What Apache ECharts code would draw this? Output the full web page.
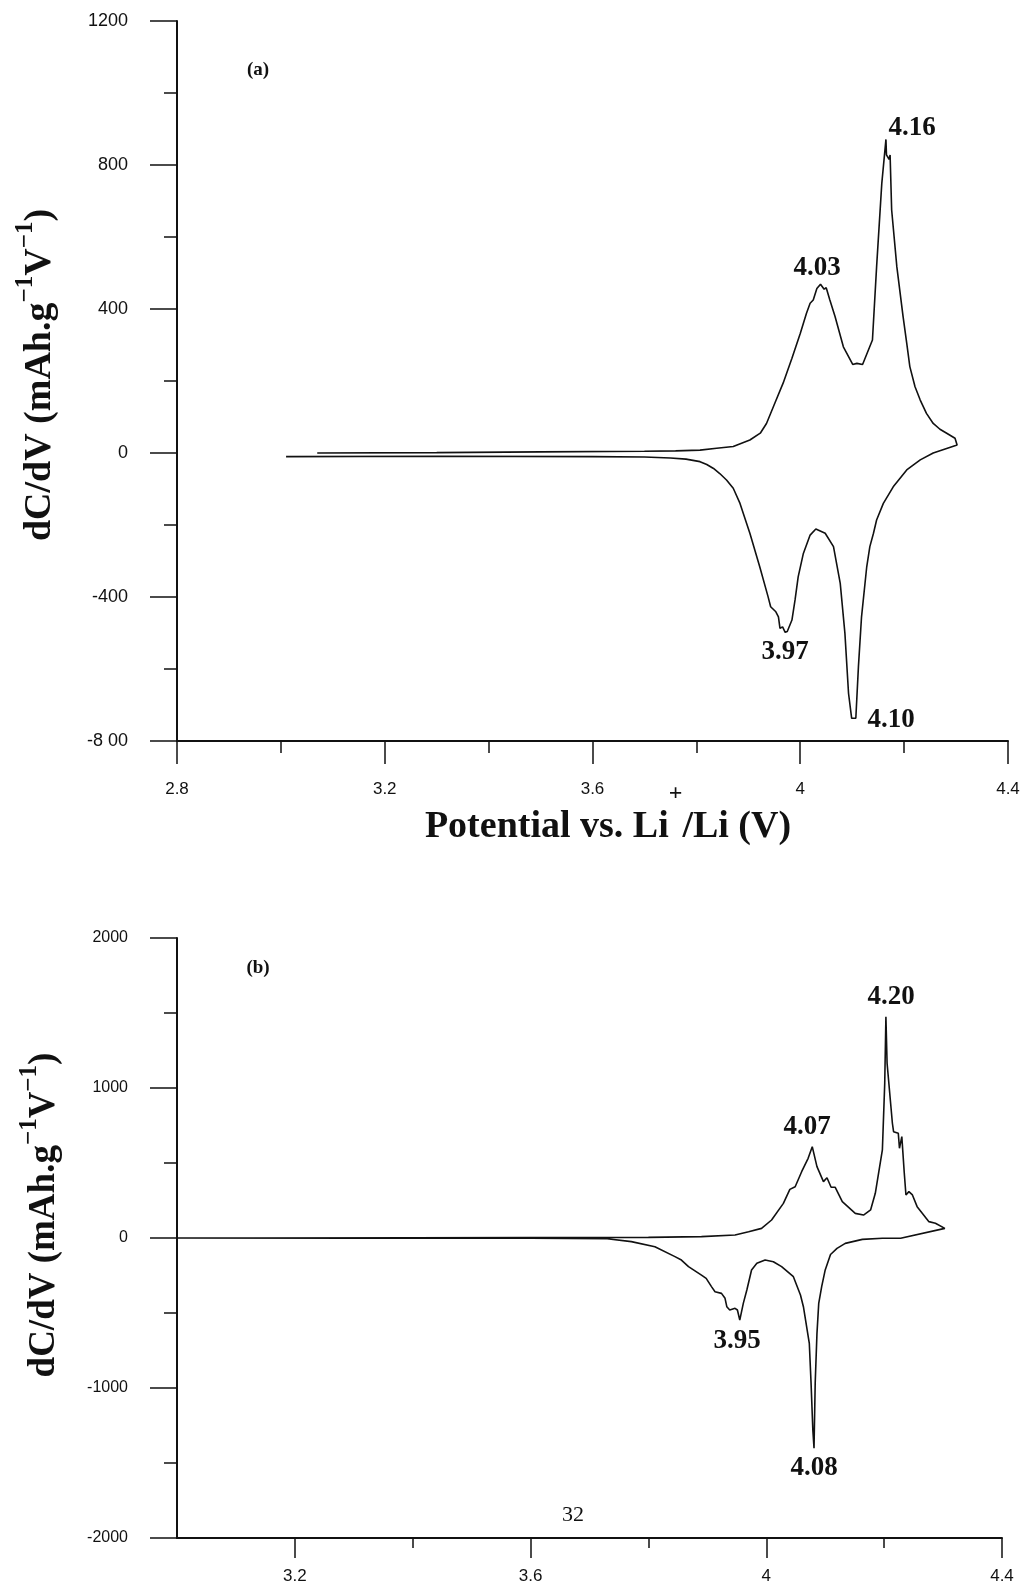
<!DOCTYPE html>
<html>
<head>
<meta charset="utf-8">
<script src="https://cdn.jsdelivr.net/npm/echarts@6/dist/echarts.min.js"></script>
<style>
html,body{margin:0;padding:0;background:#fff;}
#chart{width:1026px;height:1588px;}
</style>
</head>
<body>
<div id="chart"></div>
<script>
// ---------- Panel (a) data ----------
const chargeVA = [3.07, 3.30, 3.50, 3.70, 3.76, 3.807, 3.839, 3.871, 3.903, 3.923, 3.935, 3.951, 3.967, 3.984, 4.000, 4.012, 4.019, 4.025, 4.032, 4.039, 4.046, 4.050, 4.057, 4.067, 4.083, 4.101, 4.109, 4.120, 4.139, 4.147, 4.157, 4.165, 4.166, 4.171, 4.173, 4.176, 4.186, 4.198, 4.205, 4.211, 4.221, 4.231, 4.243, 4.256, 4.269, 4.282, 4.298, 4.302];
const chargeYA = [0, 1, 3, 5, 6, 8, 13, 18, 36, 55, 82, 138, 194, 263, 332, 388, 416, 425, 457, 469, 455, 459, 425, 379, 295, 246, 249, 246, 314, 517, 749, 871, 828, 816, 828, 675, 517, 379, 305, 240, 184, 147, 110, 82, 66, 55, 41, 22];
const dischargeVA = [4.256, 4.231, 4.205, 4.179, 4.160, 4.147, 4.141, 4.134, 4.128, 4.118, 4.112, 4.107, 4.099, 4.093, 4.086, 4.077, 4.064, 4.048, 4.030, 4.019, 4.006, 3.996, 3.990, 3.984, 3.975, 3.971, 3.966, 3.961, 3.958, 3.953, 3.943, 3.938, 3.922, 3.903, 3.884, 3.871, 3.858, 3.845, 3.833, 3.82, 3.807, 3.78, 3.75, 3.70, 3.60, 3.30, 3.01];
const dischargeYA = [0, -19, -47, -94, -140, -186, -223, -260, -316, -455, -594, -737, -737, -668, -501, -362, -260, -223, -211, -228, -279, -344, -408, -464, -496, -498, -483, -487, -455, -441, -427, -399, -316, -223, -140, -98, -75, -57, -43, -32, -24, -17, -14, -11, -10, -9, -10];

// ---------- Panel (b) data ----------
const chargeVB = [3.13, 3.40, 3.60, 3.80, 3.890, 3.947, 3.970, 3.992, 4.009, 4.029, 4.040, 4.049, 4.060, 4.071, 4.078, 4.086, 4.097, 4.103, 4.110, 4.117, 4.129, 4.151, 4.165, 4.177, 4.185, 4.197, 4.201, 4.203, 4.205, 4.208, 4.214, 4.216, 4.224, 4.226, 4.230, 4.234, 4.237, 4.242, 4.248, 4.256, 4.276, 4.287, 4.303];
const chargeYB = [0, 2, 3, 4, 9, 20, 42, 64, 120, 231, 324, 342, 442, 531, 609, 476, 376, 402, 338, 338, 242, 164, 153, 187, 298, 587, 1031, 1475, 1165, 1153, 765, 709, 698, 598, 676, 442, 287, 309, 287, 209, 109, 98, 64];
const dischargeVB = [4.228, 4.197, 4.163, 4.134, 4.120, 4.109, 4.100, 4.094, 4.089, 4.086, 4.083, 4.081, 4.079, 4.076, 4.073, 4.063, 4.058, 4.046, 4.026, 4.012, 3.998, 3.984, 3.975, 3.967, 3.961, 3.955, 3.951, 3.947, 3.938, 3.933, 3.930, 3.924, 3.913, 3.907, 3.898, 3.890, 3.868, 3.856, 3.845, 3.811, 3.771, 3.73, 3.60, 3.30, 3.00];
const dischargeYB = [-2, -2, -9, -36, -69, -110, -213, -324, -436, -636, -969, -1402, -1280, -969, -702, -458, -380, -258, -191, -158, -147, -169, -213, -347, -436, -547, -480, -469, -480, -458, -402, -369, -358, -324, -269, -247, -191, -147, -124, -58, -24, -5, -2, -1, 0];

// ---------- Tick labels ----------
const xTickValsA = [2.8, 3.2, 3.6, 4.0, 4.4];
const xTickLabelsA = ['2.8', '3.2', '3.6', '4', '4.4'];
const yTickValsA = [-800, -400, 0, 400, 800, 1200];
const yTickLabelsA = ['-8 00', '-400', '0', '400', '800', '1200'];
const xTickValsB = [3.2, 3.6, 4.0, 4.4];
const xTickLabelsB = ['3.2', '3.6', '4', '4.4'];
const yTickValsB = [-2000, -1000, 0, 1000, 2000];
const yTickLabelsB = ['-2000', '-1000', '0', '1000', '2000'];

// ---------- Peak annotations ----------
const peakLabelsA = ['4.16', '4.03', '3.97', '4.10'];
const peakLabelsB = ['4.20', '4.07', '3.95', '4.08'];

function pairs(vs, ys) { return vs.map((v, i) => [v, ys[i]]); }
function lookup(vals, labels) {
  return function (v) {
    for (let i = 0; i < vals.length; i++) if (Math.abs(vals[i] - v) < 1e-6) return labels[i];
    return '';
  };
}

const serif = '"Liberation Serif","Times New Roman",serif';
const sans = '"Liberation Sans",Arial,sans-serif';
const ink = '#111';

function xAxisCfg(gridIndex, min, max, extra, labelFn, fontSize, margin, majLen, minLen, tickVals) {
  const tick = { show: true, length: majLen, lineStyle: { color: ink, width: 1.5 } };
  if (tickVals) tick.customValues = tickVals;
  return Object.assign({
    type: 'value', gridIndex: gridIndex, min: min, max: max,
    axisLine: { onZero: false, lineStyle: { color: ink, width: 2 } },
    axisTick: tick,
    minorTick: { show: true, splitNumber: 2, length: minLen, lineStyle: { color: ink, width: 1.5 } },
    splitLine: { show: false }, minorSplitLine: { show: false },
    axisLabel: { formatter: labelFn, color: ink, fontFamily: sans, fontSize: fontSize, margin: margin, showMinLabel: true, showMaxLabel: true, hideOverlap: false }
  }, extra);
}
function yAxisCfg(gridIndex, min, max, interval, labelFn, fontSize) {
  return {
    type: 'value', gridIndex: gridIndex, min: min, max: max, interval: interval,
    axisLine: { onZero: false, lineStyle: { color: ink, width: 2 } },
    axisTick: { show: true, length: 27, lineStyle: { color: ink, width: 1.5 } },
    minorTick: { show: true, splitNumber: 2, length: 13, lineStyle: { color: ink, width: 1.5 } },
    splitLine: { show: false }, minorSplitLine: { show: false },
    axisLabel: { formatter: labelFn, color: ink, fontFamily: sans, fontSize: fontSize, margin: 49, showMinLabel: true, showMaxLabel: true, hideOverlap: false }
  };
}

const boldRich = (fs, lh) => ({ fontFamily: serif, fontWeight: 'bold', fontSize: fs, lineHeight: lh, fill: ink, color: ink });
const supRich = (fs) => ({ fontFamily: serif, fontWeight: 'bold', fontSize: fs, lineHeight: 20, verticalAlign: 'top', fill: ink, color: ink });

function yTitle(x, y, fs) {
  return {
    type: 'text', x: x, y: y, rotation: Math.PI / 2,
    style: {
      text: '{b|dC/dV (mAh.g}{s|\u22121}{b|V}{s|\u22121}{b|)}',
      rich: { b: boldRich(fs, 54), s: supRich(25) },
      align: 'center', verticalAlign: 'middle'
    }
  };
}
function plainText(x, y, text, fs, weight, font) {
  return {
    type: 'text', x: x, y: y,
    style: { text: text, font: (weight || 'bold') + ' ' + fs + 'px ' + (font || serif), fill: ink, align: 'center', verticalAlign: 'middle' }
  };
}

const option = {
  animation: false,
  backgroundColor: '#fff',
  grid: [
    { left: 177, top: 21, width: 831, height: 720, outerBoundsMode: 'none' },
    { left: 177, top: 938, width: 825, height: 600, outerBoundsMode: 'none' }
  ],
  xAxis: [
    xAxisCfg(0, 2.8, 4.4, { interval: 0.4 }, lookup(xTickValsA, xTickLabelsA), 17, 40, 23, 12, null),
    xAxisCfg(1, 3.0, 4.4, { minInterval: 0.4, maxInterval: 0.4, splitNumber: 4 }, lookup(xTickValsB, xTickLabelsB), 17, 30, 20, 10, xTickValsB)
  ],
  yAxis: [
    yAxisCfg(0, -800, 1200, 400, lookup(yTickValsA, yTickLabelsA), 18),
    yAxisCfg(1, -2000, 2000, 1000, lookup(yTickValsB, yTickLabelsB), 16)
  ],
  series: [
    {
      type: 'line', xAxisIndex: 0, yAxisIndex: 0, showSymbol: false, symbol: 'none', smooth: false,
      lineStyle: { color: ink, width: 1.6 },
      data: pairs(chargeVA, chargeYA).concat(pairs(dischargeVA, dischargeYA))
    },
    {
      type: 'line', xAxisIndex: 1, yAxisIndex: 1, showSymbol: false, symbol: 'none', smooth: false,
      lineStyle: { color: ink, width: 1.6 },
      data: pairs(chargeVB, chargeYB).concat(pairs(dischargeVB, dischargeYB))
    }
  ],
  graphic: [
    yTitle(40, 375, 38),
    yTitle(44, 1215, 37),
    {
      type: 'text', x: 608, y: 827,
      style: {
        text: '{b|Potential vs. Li}{s|+}{b|/Li (V)}',
        rich: { b: boldRich(38, 90), s: supRich(24) },
        align: 'center', verticalAlign: 'middle'
      }
    },
    plainText(258, 70, '(a)', 19),
    plainText(258, 968, '(b)', 19),
    plainText(912, 128, peakLabelsA[0], 27),
    plainText(817, 268, peakLabelsA[1], 27),
    plainText(785, 652, peakLabelsA[2], 27),
    plainText(891, 720, peakLabelsA[3], 27),
    plainText(891, 997, peakLabelsB[0], 27),
    plainText(807, 1127, peakLabelsB[1], 27),
    plainText(737, 1341, peakLabelsB[2], 27),
    plainText(814, 1468, peakLabelsB[3], 27),
    plainText(573, 1515, '32', 22, 'normal')
  ]
};

const chart = echarts.init(document.getElementById('chart'), null, { renderer: 'canvas' });
chart.setOption(option);
</script>
</body>
</html>
